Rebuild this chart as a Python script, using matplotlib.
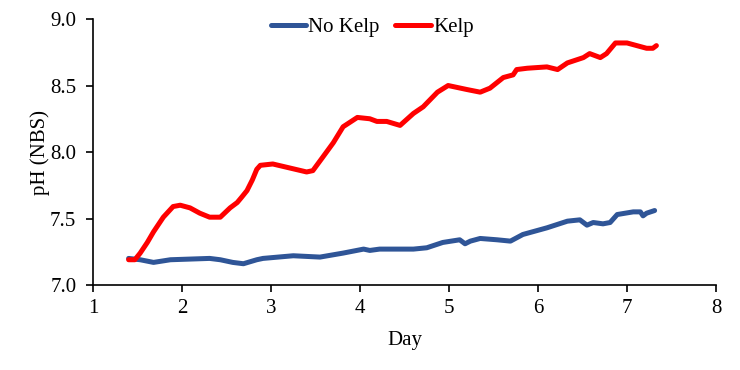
import matplotlib
matplotlib.use("Agg")
import matplotlib.pyplot as plt

kelp_day = [1.40, 1.47, 1.53, 1.61, 1.68, 1.79, 1.90, 1.98, 2.09, 2.20, 2.31, 2.43, 2.54, 2.62,
            2.67, 2.73, 2.79, 2.84, 2.88, 3.02, 3.21, 3.40, 3.47, 3.58, 3.70, 3.81, 3.97, 4.11,
            4.19, 4.30, 4.45, 4.60, 4.71, 4.87, 4.99, 5.20, 5.35, 5.46, 5.61, 5.72, 5.76, 5.88,
            6.10, 6.22, 6.33, 6.51, 6.58, 6.70, 6.77, 6.87, 7.00, 7.11, 7.22, 7.29, 7.33]
kelp_ph = [7.19, 7.19, 7.24, 7.32, 7.40, 7.51, 7.59, 7.60, 7.58, 7.54, 7.51, 7.51, 7.58, 7.62,
           7.66, 7.71, 7.79, 7.87, 7.90, 7.91, 7.88, 7.85, 7.86, 7.96, 8.07, 8.19, 8.26, 8.25,
           8.23, 8.23, 8.20, 8.29, 8.34, 8.45, 8.50, 8.47, 8.45, 8.48, 8.56, 8.58, 8.62, 8.63,
           8.64, 8.62, 8.67, 8.71, 8.74, 8.71, 8.74, 8.82, 8.82, 8.80, 8.78, 8.78, 8.80]

nokelp_day = [1.40, 1.53, 1.68, 1.87, 2.31, 2.43, 2.57, 2.69, 2.84, 2.91, 3.25, 3.55, 3.81,
              4.04, 4.11, 4.22, 4.60, 4.75, 4.93, 5.12, 5.18, 5.24, 5.35, 5.54, 5.69, 5.83,
              6.10, 6.33, 6.47, 6.55, 6.62, 6.73, 6.81, 6.89, 7.07, 7.15, 7.18, 7.22, 7.31]
nokelp_ph = [7.20, 7.19, 7.17, 7.19, 7.20, 7.19, 7.17, 7.16, 7.19, 7.20, 7.22, 7.21, 7.24,
             7.27, 7.26, 7.27, 7.27, 7.28, 7.32, 7.34, 7.31, 7.33, 7.35, 7.34, 7.33, 7.38,
             7.43, 7.48, 7.49, 7.45, 7.47, 7.46, 7.47, 7.53, 7.55, 7.55, 7.52, 7.54, 7.56]

x_ticks = [1, 2, 3, 4, 5, 6, 7, 8]
y_ticks = [7.0, 7.5, 8.0, 8.5, 9.0]

plt.rcParams['font.family'] = ['Liberation Serif', 'DejaVu Serif']
fig = plt.figure(figsize=(7.4, 3.7), dpi=100)
ax = fig.add_axes([0.1257, 0.2297, 0.8419, 0.7189])

ax.plot(nokelp_day, nokelp_ph, color='#2F5597', lw=3.6, label='No Kelp',
        solid_capstyle='round', solid_joinstyle='round')
ax.plot(kelp_day, kelp_ph, color='#FF0000', lw=3.6, label='Kelp',
        solid_capstyle='round', solid_joinstyle='round')

ax.set_xlim(1, 8)
ax.set_ylim(7.0, 9.0)
ax.set_xticks(x_ticks)
ax.set_yticks(y_ticks)
ax.set_yticklabels([f"{v:.1f}" for v in y_ticks])
ax.tick_params(direction='out', length=5, width=1.2, labelsize=15, colors='black')
ax.tick_params(axis='x', pad=5)
ax.tick_params(axis='y', pad=7)
for s in ['top', 'right']:
    ax.spines[s].set_visible(False)
for s in ['left', 'bottom']:
    ax.spines[s].set_linewidth(1.2)
ax.set_xlabel('Day', fontsize=15)
ax.set_ylabel('pH (NBS)', fontsize=15)
ax.xaxis.set_label_coords(0.5, -0.207)
ax.yaxis.set_label_coords(-0.085, 0.5)
ax.xaxis.label.set_verticalalignment('center')
ax.yaxis.label.set_verticalalignment('center')

fig.legend(loc='center', bbox_to_anchor=(0.503, 0.927), ncol=2, frameon=False, fontsize=15,
           handlelength=1.7, handletextpad=0.1, columnspacing=0.75, borderpad=0, borderaxespad=0)

fig.savefig('out.png', dpi=100)
